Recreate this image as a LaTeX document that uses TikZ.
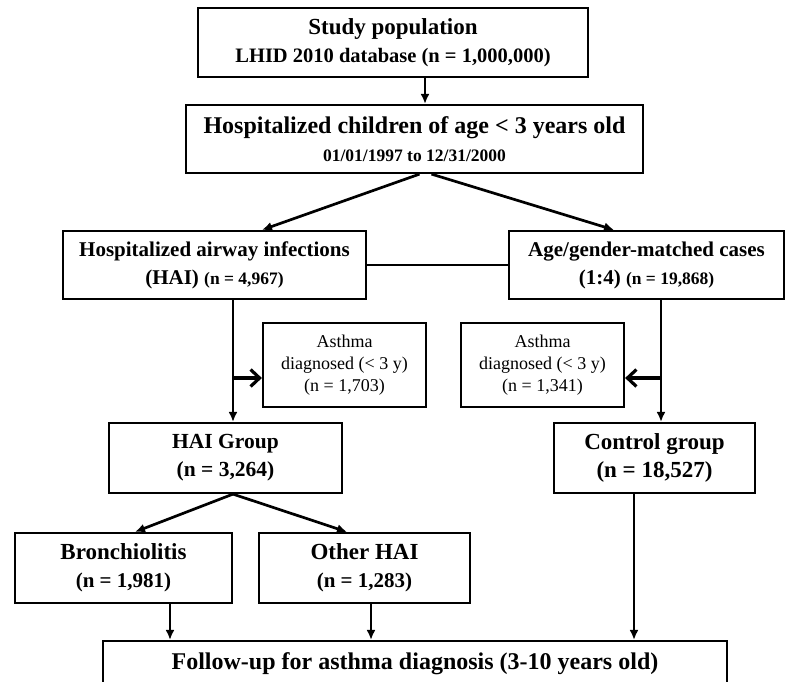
\documentclass[tikz,border=0pt]{standalone}
\usepackage{fontspec}
\setmainfont{Liberation Serif}
\usetikzlibrary{arrows.meta,calc}
\begin{document}
\begin{tikzpicture}[x=1pt,y=-1pt,
 box/.style={draw,line width=2.2pt,rectangle,inner sep=0pt,align=center,font=\bfseries\fontsize{22}{28}\selectfont},
 smallbox/.style={box,font=\fontsize{18}{22}\selectfont},
 arr/.style={line width=2.7pt,-{Latex[length=10pt,width=9pt]}},
 sarr/.style={line width=3.2pt,-{Straight Barb[length=9pt,width=17pt]}},
 ln/.style={line width=2.7pt}]
\clip (0,0) rectangle (794,681);
\node[box,minimum width=390pt,minimum height=69pt] (b1) at (393,42.5)
  {{\fontsize{23}{28}\selectfont Study population}\\{\fontsize{20.5}{28}\selectfont LHID 2010 database (n = 1,000,000)}};
\node[box,minimum width=457pt,minimum height=68pt] (b2) at (414.5,139)
  {{\fontsize{24}{27}\selectfont Hospitalized children of age < 3 years old}\\{\fontsize{17.5}{27}\selectfont 01/01/1997 to 12/31/2000}};
\node[box,minimum width=303pt,minimum height=68pt,font=\bfseries\fontsize{21}{28}\selectfont] (hai) at (214.5,265)
  {Hospitalized airway infections\\(HAI) {\fontsize{17.5}{28}\selectfont (n = 4,967)}};
\node[box,minimum width=275pt,minimum height=68pt,font=\bfseries\fontsize{21}{28}\selectfont] (age) at (646.5,265)
  {Age/gender-matched cases\\(1:4) {\fontsize{17.5}{28}\selectfont (n = 19,868)}};
\node[smallbox,minimum width=163pt,minimum height=84pt] (ast1) at (344.5,365)
  {Asthma\\diagnosed (< 3 y)\\(n = 1,703)};
\node[smallbox,minimum width=163pt,minimum height=84pt] (ast2) at (542.5,365)
  {Asthma\\diagnosed (< 3 y)\\(n = 1,341)};
\node[box,minimum width=233pt,minimum height=70pt,font=\bfseries\fontsize{21.5}{28}\selectfont] (haig) at (225.5,458)
  {HAI Group\\(n = 3,264)};
\node[box,minimum width=201pt,minimum height=70pt,font=\bfseries\fontsize{23}{28}\selectfont] (ctrl) at (654.5,458)
  {Control group\\(n = 18,527)};
\node[box,minimum width=217pt,minimum height=70pt,font=\bfseries\fontsize{23}{28}\selectfont] (bron) at (123.5,568)
  {Bronchiolitis\\{\fontsize{21}{28}\selectfont (n = 1,981)}};
\node[box,minimum width=211pt,minimum height=70pt,font=\bfseries\fontsize{23}{28}\selectfont] (oth) at (364.5,568)
  {Other HAI\\{\fontsize{21}{28}\selectfont (n = 1,283)}};
\node[box,minimum width=624pt,minimum height=46pt,font=\bfseries\fontsize{24}{28}\selectfont] (fol) at (415,664)
  {Follow-up for asthma diagnosis (3-10 years old)};
% connectors
\coordinate (xa) at (425,0);
\coordinate (vl) at (233,378);
\coordinate (vr) at (661,378);
\coordinate (xb) at (170,0);
\coordinate (xo) at (371,0);
\coordinate (xc) at (634,0);
\draw[arr] (b1.south -| xa) -- (b2.north -| xa);
\draw[arr] ($(b2.south)+(5,0)$) -- ($(hai.north)+(47.5,0)$);
\draw[arr] ($(b2.south)+(17,0)$) -- ($(age.north)+(-32.5,0)$);
\draw[ln] (hai.east) -- (age.west);
\draw[arr] (hai.south -| vl) -- (haig.north -| vl);
\draw[sarr] (vl) -- (vl -| ast1.west);
\draw[arr] (age.south -| vr) -- (ctrl.north -| vr);
\draw[sarr] (vr) -- (vr -| ast2.east);
\draw[arr] (haig.south -| vl) -- ($(bron.north)+(11.5,0)$);
\draw[arr] (haig.south -| vl) -- ($(oth.north)+(-17.5,0)$);
\draw[arr] (bron.south -| xb) -- (fol.north -| xb);
\draw[arr] (oth.south -| xo) -- (fol.north -| xo);
\draw[arr] (ctrl.south -| xc) -- (fol.north -| xc);
\end{tikzpicture}
\end{document}
